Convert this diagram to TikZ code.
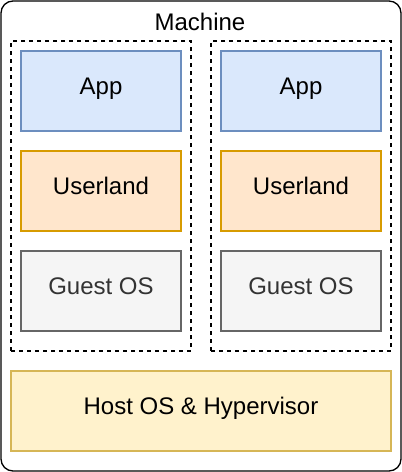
\documentclass[tikz,border=0pt]{standalone}
\usepackage{fontspec}
\setmainfont{Liberation Sans}
\usetikzlibrary{positioning}
\definecolor{appfill}{HTML}{DAE8FC}
\definecolor{appline}{HTML}{6C8EBF}
\definecolor{usrfill}{HTML}{FFE6CC}
\definecolor{usrline}{HTML}{D79B00}
\definecolor{osfill}{HTML}{F5F5F5}
\definecolor{osline}{HTML}{666666}
\definecolor{ostext}{HTML}{333333}
\definecolor{hostfill}{HTML}{FFF2CC}
\definecolor{hostline}{HTML}{D6B656}
\tikzset{
  lbl/.style    ={font=\fontsize{18}{21}\selectfont, text height=0.74em, text depth=0.16em},
  layer/.style  ={lbl, draw, line width=0.9pt, minimum width=120pt, minimum height=60pt,
                  inner sep=0pt},
  appbox/.style ={layer, fill=appfill, draw=appline},
  usrbox/.style ={layer, fill=usrfill, draw=usrline},
  guestbox/.style={layer, fill=osfill, draw=osline, text=ostext},
  hostbox/.style={layer, fill=hostfill, draw=hostline, minimum width=285pt},
  vmbox/.style  ={draw, line width=0.9pt, dash pattern=on 3pt off 3pt,
                  minimum width=135pt, minimum height=232.5pt, inner sep=0pt},
  machine/.style={draw, line width=1pt, rounded corners=9pt,
                  minimum width=300pt, minimum height=352.5pt, inner sep=0pt},
}
\begin{document}
\begin{tikzpicture}[x=0.75pt,y=-0.75pt]
  \useasboundingbox (0,0) rectangle (402,472);
  \node[machine] (mach) at (201,236) {};
  \node[lbl, inner sep=0pt] (machlbl) at (200,27) {Machine};
  \foreach \c/\xx in {1/101,2/301}{
    \node[vmbox] (vm\c) at (\xx,196) {};
    \node[appbox] (app\c) at (\xx,91) {App};
    \node[usrbox] (usr\c) at (\xx,191) {Userland};
    \node[guestbox] (guest\c) at (\xx,291) {Guest OS};
  }
  \node[hostbox] (host) at (201,411) {Host OS \& Hypervisor};
\end{tikzpicture}
\end{document}
